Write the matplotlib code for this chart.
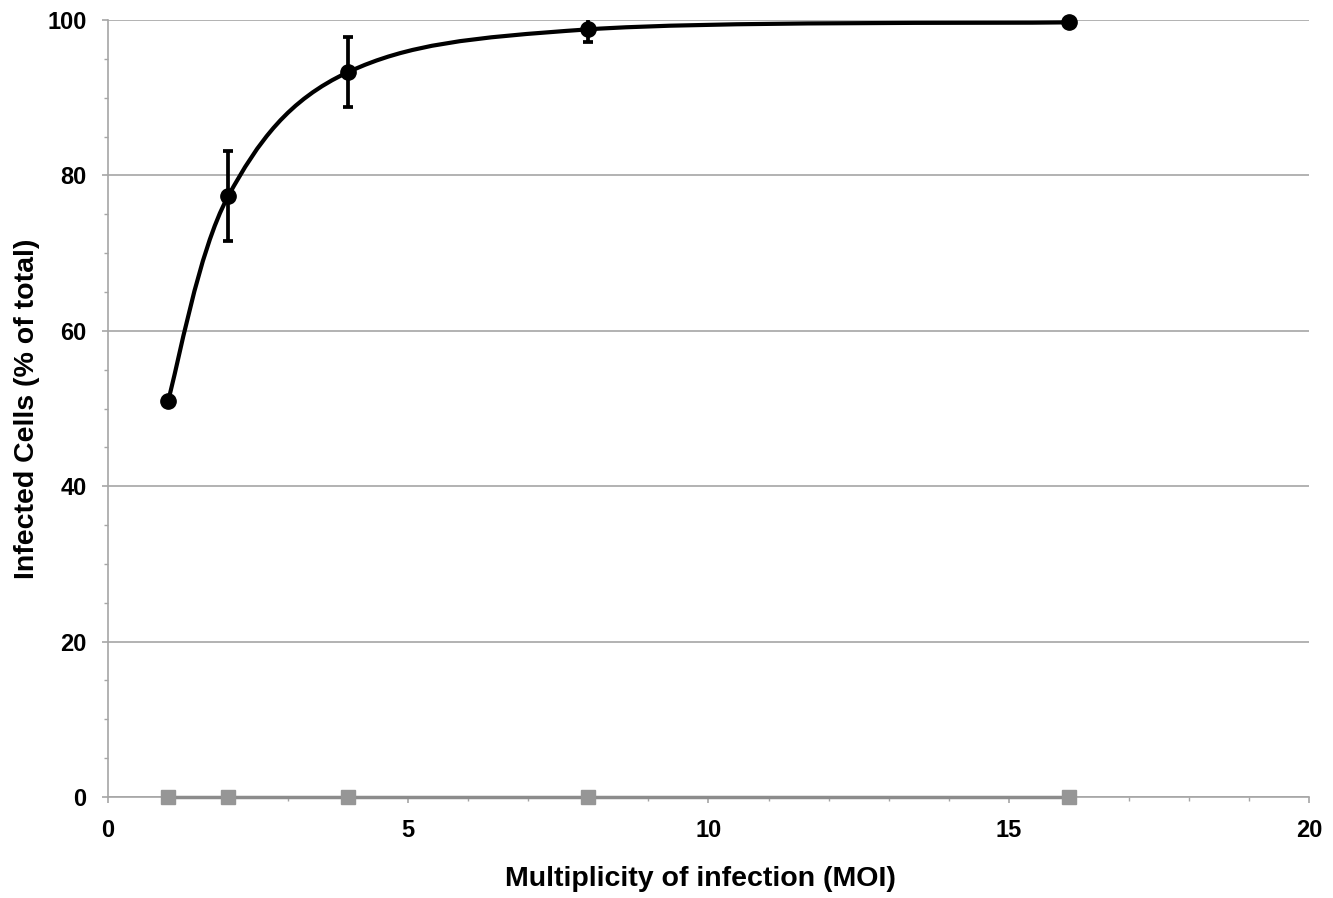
import matplotlib
matplotlib.use("Agg")
import matplotlib.pyplot as plt
from matplotlib.path import Path
from matplotlib.patches import PathPatch
from matplotlib.ticker import MultipleLocator
import numpy as np

plt.rcParams['font.family'] = ['Liberation Sans', 'DejaVu Sans']
plt.rcParams['font.weight'] = 'bold'

# data
moi = [1, 2, 4, 8, 16]
infected = [51.0, 77.3, 93.3, 98.8, 99.7]
infected_err = [0.0, 5.8, 4.5, 1.6, 0.0]
control = [0, 0, 0, 0, 0]

GRID = '#a6a6a6'
GRAY = '#8c8c8c'


def smooth_path(xs, ys):
    # excel-style smoothed line: cubic bezier with catmull-rom control points
    pts = np.column_stack([xs, ys]).astype(float)
    n = len(pts)
    verts = [pts[0]]
    codes = [Path.MOVETO]
    for i in range(n - 1):
        p0 = pts[i - 1] if i > 0 else pts[i]
        p1 = pts[i]
        p2 = pts[i + 1]
        p3 = pts[i + 2] if i + 2 < n else pts[i + 1]
        c1 = p1 + (p2 - p0) / 6.0
        c2 = p2 - (p3 - p1) / 6.0
        verts += [c1, c2, p2]
        codes += [Path.CURVE4] * 3
    return Path(verts, codes)


fig = plt.figure(figsize=(13.33, 8.98), dpi=100)
ax = fig.add_axes([0.081, 0.1125, 0.901, 0.8652])

ax.set_xlim(0, 20)
ax.set_ylim(0, 100)

ax.yaxis.grid(True, color=GRID, linewidth=1.2)
ax.set_axisbelow(True)

# control series along the bottom
ax.plot(moi, control, color=GRAY, linewidth=2.5, marker='s', markersize=10,
        markerfacecolor='#969696', markeredgecolor='#969696', zorder=3, clip_on=False)

# infected series, smoothed
patch = PathPatch(smooth_path(moi, infected), facecolor='none', edgecolor='black',
                  linewidth=3.0, zorder=4, capstyle='round')
ax.add_patch(patch)
ax.errorbar(moi, infected, yerr=infected_err, fmt='none', ecolor='black',
            elinewidth=2.7, capsize=3.5, capthick=2.7, zorder=5)
ax.plot(moi, infected, 'o', color='black', markersize=11, zorder=6, clip_on=False)

for side in ['top', 'right']:
    ax.spines[side].set_visible(False)
for side in ['left', 'bottom']:
    ax.spines[side].set_color(GRID)
    ax.spines[side].set_linewidth(1.2)

ax.xaxis.set_major_locator(MultipleLocator(5))
ax.xaxis.set_minor_locator(MultipleLocator(1))
ax.yaxis.set_major_locator(MultipleLocator(20))
ax.yaxis.set_minor_locator(MultipleLocator(5))
ax.tick_params(which='major', direction='out', length=4.5, width=1.2, color=GRID,
               labelsize=17, pad=11)
ax.tick_params(which='minor', direction='out', length=3, width=1.0, color=GRID)

ax.set_xlabel('Multiplicity of infection (MOI)', fontsize=20.5, fontweight='bold')
ax.xaxis.set_label_coords(0.493, -0.089)
ax.set_ylabel('Infected Cells (% of total)', fontsize=20.5, fontweight='bold', labelpad=5)

fig.savefig('out.png', dpi=100)
